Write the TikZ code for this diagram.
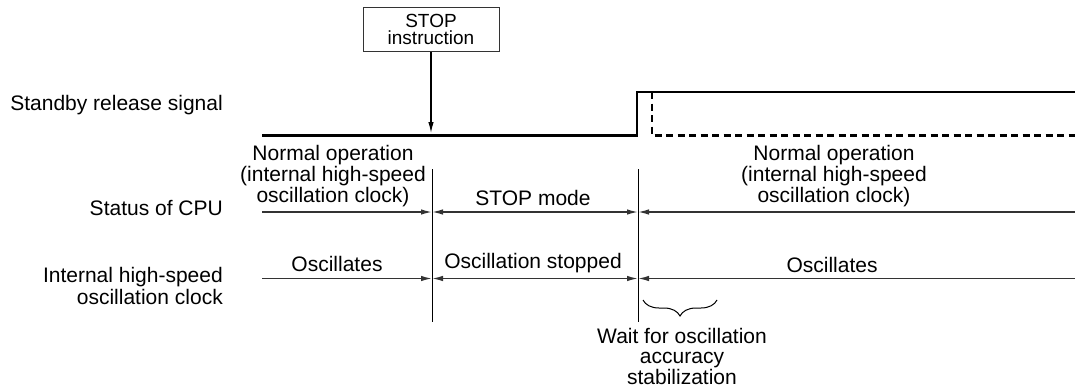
\documentclass[tikz,border=0pt]{standalone}
\usepackage{fontspec}
\setmainfont{Liberation Sans}
\usetikzlibrary{arrows.meta, decorations.pathreplacing, positioning}

\begin{document}
\begin{tikzpicture}[
  x=1pt, y=-1pt,
  lbl/.style={font=\fontsize{21}{21}\selectfont, align=center, inner sep=0pt},
  side/.style={lbl, align=right, anchor=east},
  box/.style={draw=black!80, line width=0.9pt, minimum width=136pt, minimum height=44pt,
              inner sep=0pt, align=center, font=\fontsize{19}{17}\selectfont},
  sig/.style={line width=2.4pt},
  arr/.style={-{Latex[length=11pt, width=5.5pt]}, line width=1.2pt},
  span/.style={{Latex[length=11pt, width=5.5pt]}-{Latex[length=11pt, width=5.5pt]}, line width=1.4pt, black!80},
  half/.style={-{Latex[length=11pt, width=5.5pt]}, line width=1.4pt, black!80},
  tick/.style={line width=1pt}
]
  \useasboundingbox (0,0) rectangle (1075,389);

  % row titles
  \node[side] (sigT) at (223,105) {Standby release signal};
  \node[side] (cpuT) at (223,208) {Status of CPU};
  \node[side] (clkT) at (223,285.5) {Internal high-speed\\[1pt]oscillation clock};

  % STOP instruction
  \node[box] (stop) at (431,29.5) {STOP\\instruction};
  \coordinate (hit) at (431,133);
  \draw[arr] (stop) -- (hit);

  % standby release signal
  \coordinate (s0) at (262,135.5);
  \coordinate (s1) at (637,135.5);
  \coordinate (s2) at (1075,92);
  \coordinate (d0) at (652,92);
  \coordinate (d1) at (1075,135.5);
  \draw[sig] (s0) -- (s1) |- (s2);
  \draw[sig, dash pattern=on 7pt off 4.5pt] (d0) |- (d1);

  % time marks
  \coordinate (t1a) at (432,169);
  \coordinate (t1b) at (432,322);
  \coordinate (t2a) at (638,169);
  \coordinate (t2b) at (638,322);
  \draw[tick] (t1a) -- (t1b);
  \draw[tick] (t2a) -- (t2b);

  % status of CPU
  \coordinate (c0) at (262,212);
  \coordinate (c1) at (432,212);
  \coordinate (c2) at (638,212);
  \coordinate (c3) at (1075,212);
  \draw[half] (c0) -- (c1);
  \draw[span] (c1) -- (c2);
  \draw[half] (c3) -- (c2);
  \node[lbl] (cpu1) at (333,176) {Normal operation\\(internal high-speed\\oscillation clock)};
  \node[lbl] (cpu2) at (533,197.5) {STOP mode};
  \node[lbl] (cpu3) at (834,176) {Normal operation\\(internal high-speed\\oscillation clock)};

  % internal high-speed oscillation clock
  \coordinate (k0) at (262,278.5);
  \coordinate (k1) at (432,278.5);
  \coordinate (k2) at (638,278.5);
  \coordinate (k3) at (1075,278.5);
  \draw[half] (k0) -- (k1);
  \draw[span] (k1) -- (k2);
  \draw[half] (k3) -- (k2);
  \node[lbl] (clk1) at (337,264) {Oscillates};
  \node[lbl] (clk2) at (533,263.5) {Oscillation stopped};
  \node[lbl] (clk3) at (832,264.5) {Oscillates};

  % wait time
  \coordinate (w0) at (717,300);
  \coordinate (w1) at (643,300);
  \draw[line width=1pt, decorate, decoration={brace, amplitude=16pt}] (w0) -- (w1);
  \node[lbl, font=\fontsize{21}{20.5}\selectfont] (wait) at (682,356)
    {Wait for oscillation\\accuracy\\stabilization};
\end{tikzpicture}
\end{document}
